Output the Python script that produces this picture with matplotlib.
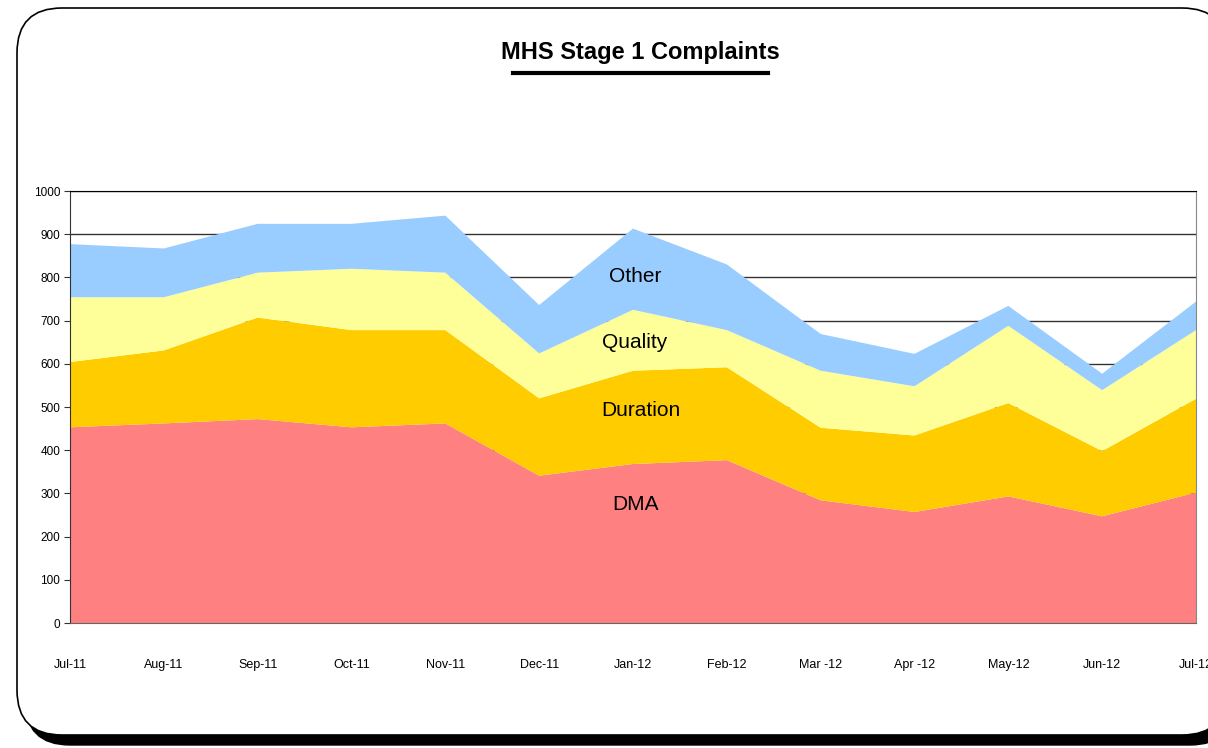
import numpy as np
import matplotlib
matplotlib.use("Agg")
import matplotlib.pyplot as plt
from matplotlib.patches import FancyBboxPatch
from matplotlib.lines import Line2D
from matplotlib.transforms import IdentityTransform

plt.rcParams['font.family'] = ['Liberation Sans', 'DejaVu Sans']

months = ["Jul-11", "Aug-11", "Sep-11", "Oct-11", "Nov-11", "Dec-11", "Jan-12",
          "Feb-12", "Mar -12", "Apr -12", "May-12", "Jun-12", "Jul-12"]
dma      = [453, 462, 472, 453, 462, 341, 368, 377, 284, 257, 293, 247, 302]
duration = [151, 169, 235, 225, 216, 179, 216, 215, 168, 177, 216, 151, 217]
quality  = [150, 123, 104, 142, 133, 104, 141, 86, 132, 114, 179, 141, 159]
other    = [123, 113, 113, 104, 132, 112, 188, 152, 85, 75, 46, 38, 66]

series_names = ["DMA", "Duration", "Quality", "Other"]
colors = ["#FF8080", "#FFCC00", "#FFFF99", "#99CCFF"]

fig = plt.figure(figsize=(12.08, 7.48), dpi=100)

# rounded frame with shadow (pixel coords)
shadow = FancyBboxPatch((25, 3), 1210, 727, boxstyle="round,pad=0,rounding_size=45",
                        transform=IdentityTransform(), facecolor="black",
                        edgecolor="black", zorder=0)
frame = FancyBboxPatch((17, 13), 1210, 727, boxstyle="round,pad=0,rounding_size=45",
                       transform=IdentityTransform(), facecolor="white",
                       edgecolor="black", linewidth=1.2, zorder=1)
fig.patches.append(shadow)
fig.patches.append(frame)

ax = fig.add_axes([70 / 1208, 1 - 623 / 748, 1126 / 1208, 432 / 748])
ax.set_zorder(2)
ax.patch.set_alpha(0)

x = np.arange(len(months))
ax.stackplot(x, dma, duration, quality, other, colors=colors, linewidth=0, zorder=2)

ax.set_xlim(0, len(months) - 1)
ax.set_ylim(0, 1000)
ax.set_yticks(range(0, 1001, 100))
ax.set_xticks(x)
ax.set_xticklabels(months, fontsize=9)
ax.tick_params(axis='x', length=0, pad=26)
ax.tick_params(axis='y', labelsize=8.5, length=4, color="#333333", pad=3)
ax.yaxis.grid(True, color="#333333", linewidth=1)
ax.set_axisbelow(True)
ax.spines["top"].set_color("black")
ax.spines["right"].set_color("#888888")
ax.spines["left"].set_color("#333333")
ax.spines["bottom"].set_color("#666666")
for s in ax.spines.values():
    s.set_zorder(3)

# series labels
label_y = [505, 411, 343, 277]
label_x = [636, 641, 635, 635]
for name, lx, ly in zip(series_names, label_x, label_y):
    fig.text(lx / 1208, 1 - ly / 748, name, ha="center", va="center", fontsize=15, zorder=5)

# title with underline
fig.text(640 / 1208, 1 - 53 / 748, "MHS Stage 1 Complaints", ha="center", va="center",
         fontsize=17, fontweight="bold")
fig.add_artist(Line2D([513 / 1208, 768 / 1208], [1 - 73 / 748, 1 - 73 / 748],
                      color="black", linewidth=3, transform=fig.transFigure))

fig.savefig("out.png", dpi=100)
